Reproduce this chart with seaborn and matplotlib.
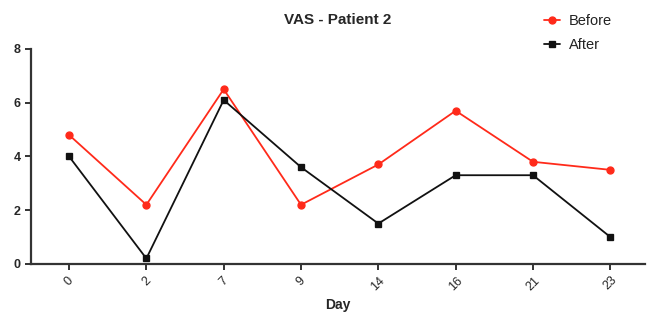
import pandas as pd
import seaborn as sns
import matplotlib.pyplot as plt

days = ["0", "2", "7", "9", "14", "16", "21", "23"]
before = [4.8, 2.2, 6.5, 2.2, 3.7, 5.7, 3.8, 3.5]
after = [4.0, 0.2, 6.1, 3.6, 1.5, 3.3, 3.3, 1.0]

df = pd.DataFrame({"Day": days * 2,
                   "VAS": before + after,
                   "group": ["Before"] * len(days) + ["After"] * len(days)})

sns.set_style("ticks")
plt.rcParams['font.family'] = ['Liberation Sans', 'DejaVu Sans']

fig = plt.figure(figsize=(6.49, 3.16), dpi=100)
ax = fig.add_axes([0.048, 0.165, 0.946, 0.68])
sns.pointplot(data=df, x="Day", y="VAS", hue="group", order=days,
              palette={"Before": "#ff2a1a", "After": "#111111"},
              markers=["o", "s"], linestyles=["-", "-"], errorbar=None,
              markersize=5, linewidth=1.3, ax=ax)

ax.set_ylim(0, 8)
ax.set_xlim(-0.49, 7.45)
ax.set_yticks([0, 2, 4, 6, 8])
ax.set_xlabel("Day", fontsize=10, fontweight="bold")
ax.set_ylabel("")
ax.set_title("VAS - Patient 2", fontsize=11, fontweight="bold", pad=18)
for lbl in ax.get_xticklabels():
    lbl.set_rotation(45)
for lbl in ax.get_yticklabels():
    lbl.set_fontweight("bold")
ax.tick_params(labelsize=9, width=1.4, length=4, color="#333333")
for s in ["left", "bottom"]:
    ax.spines[s].set_linewidth(1.6)
    ax.spines[s].set_color("#333333")
sns.despine(ax=ax)

leg = ax.legend(loc="upper left", bbox_to_anchor=(0.818, 0.997), bbox_transform=fig.transFigure,
                frameon=False, fontsize=10.5, handlelength=1.1, handletextpad=0.6,
                labelspacing=0.7)
for t in leg.get_texts():
    t.set_color("#222222")

fig.savefig("out.png", dpi=100)
